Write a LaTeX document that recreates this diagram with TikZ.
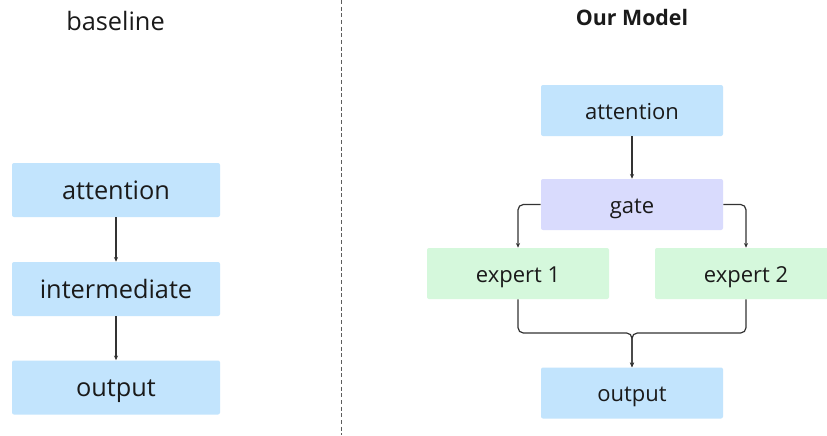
\documentclass[tikz,border=0pt]{standalone}
\usepackage{fontspec}
\setmainfont{Open Sans}
\usetikzlibrary{arrows.meta}
\definecolor{attnblue}{HTML}{C2E4FD}
\definecolor{gatepurple}{HTML}{D9DBFD}
\definecolor{expertgreen}{HTML}{D5F8DC}
\definecolor{wirecol}{HTML}{333333}
\definecolor{inkcol}{HTML}{1A1A1A}
\tikzset{
  block/.style={rounded corners=1.5pt, inner sep=0pt, text=inkcol, text depth=0pt},
  wideblock/.style={block, minimum width=156pt, minimum height=40.5pt,
    text height=13.5pt, font=\fontsize{19}{22}\selectfont},
  narrowblock/.style={block, minimum width=136.5pt, minimum height=38.25pt,
    text height=12.8pt, font=\fontsize{16.5}{20}\selectfont},
  wire/.style={wirecol, line width=0.9pt, rounded corners=4pt,
    -{Stealth[length=3.5pt,width=3pt]}},
}
\begin{document}
\begin{tikzpicture}[x=0.75pt,y=-0.75pt]
\useasboundingbox[fill=white] (0,0) rectangle (827,435);

% separator
\draw[wirecol!80, line width=0.6pt, dash pattern=on 3pt off 2pt] (341,0) -- (341,435);

% baseline
\node[text=inkcol, font=\fontsize{19}{22}\selectfont] (baseTitle) at (115.5,21) {baseline};
\foreach \nm/\yy/\txt in {attL/190/attention,interL/289/intermediate,outL/387.5/output}
  \node[wideblock, fill=attnblue] (\nm) at (116,\yy) {\txt};
\draw[wire] (attL) -- (interL);
\draw[wire] (interL) -- (outL);

% our model
\node[text=inkcol, font=\fontsize{16}{20}\selectfont\bfseries] (oursTitle) at (632,18) {Our Model};
\node[narrowblock, fill=attnblue] (attR) at (632,110.5) {attention};
\node[narrowblock, fill=gatepurple] (gate) at (632,204.5) {gate};
\node[narrowblock, fill=expertgreen] (expA) at (518,273.5) {expert 1};
\node[narrowblock, fill=expertgreen] (expB) at (746,273.5) {expert 2};
\node[narrowblock, fill=attnblue] (outR) at (632,393) {output};
\coordinate (join) at (632,333);

\draw[wire] (attR) -- (gate);
\draw[wire] (gate.west) -| (expA.north);
\draw[wire] (gate.east) -| (expB.north);
\draw[wire] (expA.south) |- (join) -- (outR.north);
\draw[wire] (expB.south) |- (join) -- (outR.north);
\end{tikzpicture}
\end{document}
